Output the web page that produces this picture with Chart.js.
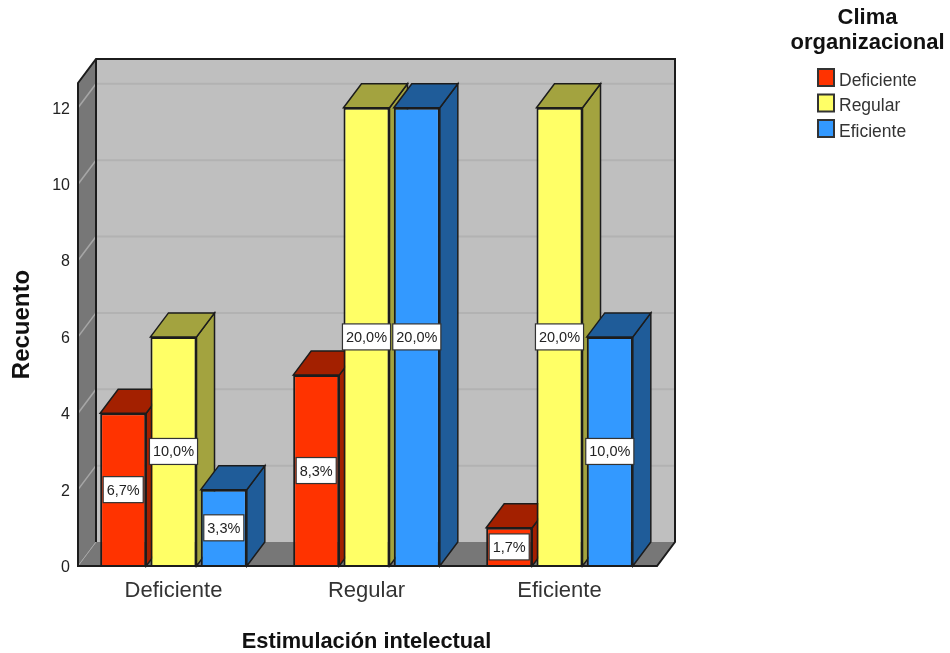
<!DOCTYPE html>
<html>
<head>
<meta charset="utf-8">
<title>Recuento</title>
<script src="https://cdn.jsdelivr.net/npm/chart.js@4/dist/chart.umd.js"></script>
<style>
    html, body { margin: 0; padding: 0; background: #fff; }
    canvas { display: block; }
</style>
</head>
<body>
<canvas id="grafico" width="950" height="653"></canvas>
<script>
const categorias = ['Deficiente', 'Regular', 'Eficiente'];
const valoresDeficiente = [4, 5, 1];
const valoresRegular = [6, 12, 12];
const valoresEficiente = [2, 12, 6];
const pctDeficiente = ['6,7%', '8,3%', '1,7%'];
const pctRegular = ['10,0%', '20,0%', '20,0%'];
const pctEficiente = ['3,3%', '20,0%', '10,0%'];
const tituloLeyenda = ['Clima', 'organizacional'];
const nombresSeries = ['Deficiente', 'Regular', 'Eficiente'];
const coloresFrente = ['#ff3300', '#ffff66', '#3399ff'];
const coloresLado = ['#a32000', '#a3a33f', '#1f5c99'];
const etiquetas = [pctDeficiente, pctRegular, pctEficiente];

const FUENTE = '"Liberation Sans", Arial, sans-serif';
const LINEA = '#1c1c1c';
// depth of the 3D box
const DX = 18;
const DY = 24;

function poligono(ctx, puntos, relleno, trazo, grosor) {
    ctx.beginPath();
    puntos.forEach((p, i) => i ? ctx.lineTo(p[0], p[1]) : ctx.moveTo(p[0], p[1]));
    ctx.closePath();
    if (relleno) { ctx.fillStyle = relleno; ctx.fill(); }
    if (trazo) { ctx.strokeStyle = trazo; ctx.lineWidth = grosor; ctx.stroke(); }
}

function dibujarCaja(chart) {
    const ctx = chart.ctx;
    const a = chart.chartArea;
    const y = chart.scales.y;
    const l = a.left + 1, r = a.right + 1, t = a.top, b = a.bottom;
    ctx.save();
    poligono(ctx, [[l + DX, t - DY], [r + DX, t - DY], [r + DX, b - DY], [l + DX, b - DY]], '#bfbfbf');
    poligono(ctx, [[l, t], [l + DX, t - DY], [l + DX, b - DY], [l, b]], '#777777');
    poligono(ctx, [[l, b], [l + DX, b - DY], [r + DX, b - DY], [r, b]], '#777777');
    y.ticks.forEach(tick => {
        if (tick.value === 0) return;
        const py = y.getPixelForValue(tick.value);
        ctx.beginPath();
        ctx.moveTo(l, py);
        ctx.lineTo(l + DX, py - DY);
        ctx.strokeStyle = '#a6a6a6';
        ctx.lineWidth = 1.5;
        ctx.stroke();
        ctx.beginPath();
        ctx.moveTo(l + DX, py - DY);
        ctx.lineTo(r + DX, py - DY);
        ctx.strokeStyle = '#b2b2b2';
        ctx.lineWidth = 2;
        ctx.stroke();
    });
    ctx.beginPath();
    ctx.moveTo(l, b);
    ctx.lineTo(l + DX, b - DY);
    ctx.strokeStyle = '#a6a6a6';
    ctx.lineWidth = 1;
    ctx.stroke();
    ctx.strokeStyle = LINEA;
    ctx.lineWidth = 2;
    ctx.beginPath();
    ctx.moveTo(l, b); ctx.lineTo(l, t); ctx.lineTo(l + DX, t - DY);
    ctx.lineTo(r + DX, t - DY); ctx.lineTo(r + DX, b - DY); ctx.lineTo(r, b);
    ctx.closePath();
    ctx.moveTo(l + DX, t - DY);
    ctx.lineTo(l + DX, b - DY);
    ctx.stroke();
    ctx.restore();
}

// top and side of each bar of one series
function dibujarLados(chart, i) {
    const ctx = chart.ctx;
    ctx.save();
    chart.getDatasetMeta(i).data.forEach(bar => {
        const x0 = bar.x - bar.width / 2;
        const x1 = bar.x + bar.width / 2;
        poligono(ctx, [[x1, bar.y], [x1 + DX, bar.y - DY], [x1 + DX, bar.base - DY], [x1, bar.base]],
            coloresLado[i], LINEA, 1.5);
        poligono(ctx, [[x0, bar.y], [x0 + DX, bar.y - DY], [x1 + DX, bar.y - DY], [x1, bar.y]],
            coloresLado[i], LINEA, 1.5);
    });
    ctx.restore();
}

const caja3d = {
    id: 'caja3d',
    beforeDatasetsDraw(chart) {
        dibujarCaja(chart);
        // series go left to right so each one covers the depth of the previous
        chart.data.datasets.forEach((ds, i) => {
            dibujarLados(chart, i);
            chart.getDatasetMeta(i).controller.draw();
        });
    },
    beforeDatasetDraw() {
        return false;
    },
    afterDatasetsDraw(chart) {
        const ctx = chart.ctx;
        const a = chart.chartArea;
        ctx.save();
        ctx.strokeStyle = LINEA;
        ctx.lineWidth = 2;
        ctx.beginPath();
        ctx.moveTo(a.left, a.bottom);
        ctx.lineTo(a.right + 1, a.bottom);
        ctx.stroke();
        ctx.font = '14.5px ' + FUENTE;
        ctx.textAlign = 'center';
        ctx.textBaseline = 'middle';
        chart.data.datasets.forEach((ds, i) => {
            chart.getDatasetMeta(i).data.forEach((bar, j) => {
                const texto = etiquetas[i][j];
                const cy = (bar.y + bar.base) / 2;
                const w = ctx.measureText(texto).width + 7;
                const h = 26;
                ctx.fillStyle = '#fff';
                ctx.fillRect(bar.x - w / 2, cy - h / 2, w, h);
                ctx.strokeStyle = '#333';
                ctx.lineWidth = 1.2;
                ctx.strokeRect(bar.x - w / 2, cy - h / 2, w, h);
                ctx.fillStyle = '#222';
                ctx.fillText(texto, bar.x, cy + 1);
            });
        });
        ctx.restore();
    }
};

// legend in the top right corner
const leyenda = {
    id: 'leyenda',
    afterDraw(chart) {
        const ctx = chart.ctx;
        ctx.save();
        ctx.fillStyle = '#111';
        ctx.textAlign = 'center';
        ctx.textBaseline = 'middle';
        ctx.font = 'bold 22px ' + FUENTE;
        tituloLeyenda.forEach((t, i) => ctx.fillText(t, 867.5, 18 + i * 25));
        ctx.textAlign = 'left';
        ctx.font = '17.5px ' + FUENTE;
        nombresSeries.forEach((n, i) => {
            const y = 69 + i * 25.5;
            ctx.fillStyle = coloresFrente[i];
            ctx.fillRect(818, y, 16, 17);
            ctx.strokeStyle = '#333';
            ctx.lineWidth = 2;
            ctx.strokeRect(818, y, 16, 17);
            ctx.fillStyle = '#333';
            ctx.fillText(n, 839, y + 12);
        });
        ctx.restore();
    }
};

new Chart(document.getElementById('grafico'), {
    type: 'bar',
    data: {
        labels: categorias,
        datasets: [valoresDeficiente, valoresRegular, valoresEficiente].map((valores, i) => ({
            label: nombresSeries[i],
            data: valores,
            backgroundColor: coloresFrente[i],
            borderColor: LINEA,
            borderWidth: 2,
            categoryPercentage: 0.782,
            barPercentage: 0.915
        }))
    },
    options: {
        responsive: false,
        animation: false,
        layout: { padding: { top: 83, right: 294, bottom: 0, left: 0 } },
        plugins: {
            legend: { display: false },
            tooltip: { enabled: false }
        },
        scales: {
            x: {
                grid: { display: false, drawTicks: false },
                border: { display: false },
                ticks: { color: '#333', font: { family: FUENTE, size: 22 }, padding: 12 },
                title: {
                    display: true,
                    text: 'Estimulación intelectual',
                    color: '#111',
                    font: { family: FUENTE, size: 21.8, weight: 'bold' },
                    padding: { top: 0, bottom: -2 }
                },
                afterFit(scale) { scale.height = 87; }
            },
            y: {
                min: 0,
                max: 12.65,
                grid: { display: false, drawTicks: false },
                border: { display: false },
                ticks: {
                    stepSize: 2,
                    includeBounds: false,
                    color: '#222',
                    font: { family: FUENTE, size: 16 },
                    padding: 7,
                    labelOffset: 1.5
                },
                title: {
                    display: true,
                    text: 'Recuento',
                    color: '#111',
                    font: { family: FUENTE, size: 24, weight: 'bold' },
                    padding: { top: 8, bottom: 0 }
                },
                afterFit(scale) { scale.width = 77; }
            }
        }
    },
    plugins: [caja3d, leyenda]
});
</script>
</body>
</html>
